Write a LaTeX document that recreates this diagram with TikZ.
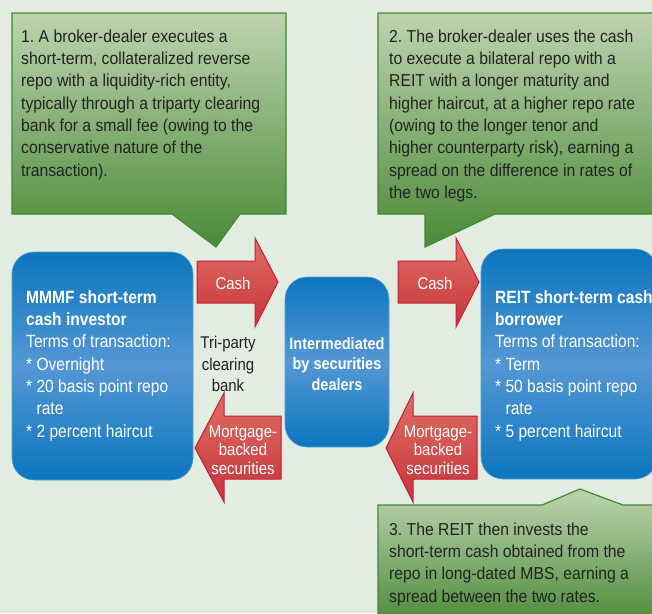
\documentclass[tikz,border=0pt]{standalone}
\usepackage{fontspec}
\setmainfont{Liberation Sans}
\newfontfamily\notefont{Liberation Sans}[FakeStretch=0.91]
\newfontfamily\boxfont{Liberation Sans}[FakeStretch=0.88]
\usetikzlibrary{positioning}
\frenchspacing

\definecolor{bgcol}{HTML}{E3ECE0}
\definecolor{noteline}{HTML}{3E8A2F}
\definecolor{notetop}{HTML}{BED4AF}
\definecolor{notebot}{HTML}{4A8A38}
\definecolor{boxedge}{HTML}{0A76BE}
\definecolor{boxmid}{HTML}{5597D4}
\definecolor{arrline}{HTML}{C41E3A}
\definecolor{arrtop}{HTML}{DE6E62}
\definecolor{arrbot}{HTML}{C8343C}
\definecolor{txtcol}{HTML}{222222}

\tikzset{
  callout/.style={draw=noteline, line width=1.2pt, line join=miter, top color=notetop, bottom color=notebot},
  bluebox/.style={draw=boxedge!70!white, line width=0.6pt, rounded corners=22pt, top color=boxedge, bottom color=boxedge, middle color=boxmid},
  redarrow/.style={draw=arrline, line width=1pt, top color=arrtop, bottom color=arrbot},
  notetext/.style={text=txtcol, font=\notefont\fontsize{17.3}{22.3}\selectfont, align=left, anchor=north west, inner sep=0pt},
  boxtext/.style={text=white, font=\boxfont\fontsize{17.7}{22.3}\selectfont, align=left, anchor=north west, inner sep=0pt},
  arrtext/.style={text=white, font=\boxfont\fontsize{17}{18.5}\selectfont, align=center, inner sep=0pt},
}

\begin{document}
\begin{tikzpicture}[x=1pt, y=-1pt]
  \useasboundingbox (0,0) rectangle (652,613);
  \fill[bgcol] (0,0) rectangle (652,613); % background
  \clip (0,0) rectangle (652,613);

  % callouts
  \shade[callout] (12,13) -- (286,13) -- (286,214) -- (240,214) -- (216,247) -- (172,214) -- (12,214) -- cycle; % step 1
  \shade[callout] (378,13) -- (662,13) -- (662,214) -- (495,214) -- (425,247) -- (425,214) -- (378,214) -- cycle; % step 2
  \shade[callout] (378,505) -- (542,505) -- (580,489) -- (623,505) -- (662,505) -- (662,625) -- (378,625) -- cycle; % step 3

  \node[notetext] (step1) at (21,29.5) {1. A broker-dealer executes a\\short-term, collateralized reverse\\repo with a liquidity-rich entity,\\typically through a triparty clearing\\bank for a small fee (owing to the\\conservative nature of the\\transaction).};
  \node[notetext] (step2) at (389,29.5) {2. The broker-dealer uses the cash\\to execute a bilateral repo with a\\REIT with a longer maturity and\\higher haircut, at a higher repo rate\\(owing to the longer tenor and\\higher counterparty risk), earning a\\spread on the difference in rates of\\the two legs.};
  \node[notetext] (step3) at (389,522.5) {3. The REIT then invests the\\short-term cash obtained from the\\repo in long-dated MBS, earning a\\spread between the two rates.};

  % blue boxes
  \shade[bluebox] (12,252) rectangle (193,480); % investor
  \shade[bluebox] (285,277) rectangle (389,447); % dealers
  \shade[bluebox] (481,249) rectangle (657,479); % borrower

  \node[boxtext] (mmmf) at (26,290.3) {\textbf{MMMF short-term}\\\textbf{cash investor}\\Terms of transaction:\\* Overnight\\* 20 basis point repo\\\phantom{* }rate\\* 2 percent haircut};
  \node[boxtext] (reit) at (495,290.3) {\textbf{REIT short-term cash}\\\textbf{borrower}\\Terms of transaction:\\* Term\\* 50 basis point repo\\\phantom{* }rate\\* 5 percent haircut};
  \node[text=white, font=\boxfont\bfseries\fontsize{16.5}{20.8}\selectfont, align=center, inner sep=0pt] (dealers) at (337,364) {Intermediated\\by securities\\dealers};

  % red arrows
  \shade[redarrow] (197,261) -- (255,261) -- (255,238) -- (278,282) -- (255,327) -- (255,303) -- (197,303) -- cycle; % cash in
  \shade[redarrow] (398,261) -- (456,261) -- (456,238) -- (479,282) -- (456,327) -- (456,303) -- (398,303) -- cycle; % cash out
  \shade[redarrow] (281,416) -- (224,416) -- (224,393) -- (195,448) -- (224,502) -- (224,479) -- (281,479) -- cycle; % MBS back
  \shade[redarrow] (477,416) -- (413,416) -- (413,393) -- (386,448) -- (413,502) -- (413,479) -- (477,479) -- cycle; % MBS in

  \node[arrtext] (cashL) at (233,283) {Cash};
  \node[arrtext] (cashR) at (435,283) {Cash};
  \node[arrtext] (mbsL) at (243,450) {Mortgage-\\backed\\securities};
  \node[arrtext] (mbsR) at (438,450) {Mortgage-\\backed\\securities};
  \node[arrtext, text=txtcol, font=\boxfont\fontsize{17}{21.8}\selectfont] (triparty) at (228,364) {Tri-party\\clearing\\bank};
\end{tikzpicture}
\end{document}
